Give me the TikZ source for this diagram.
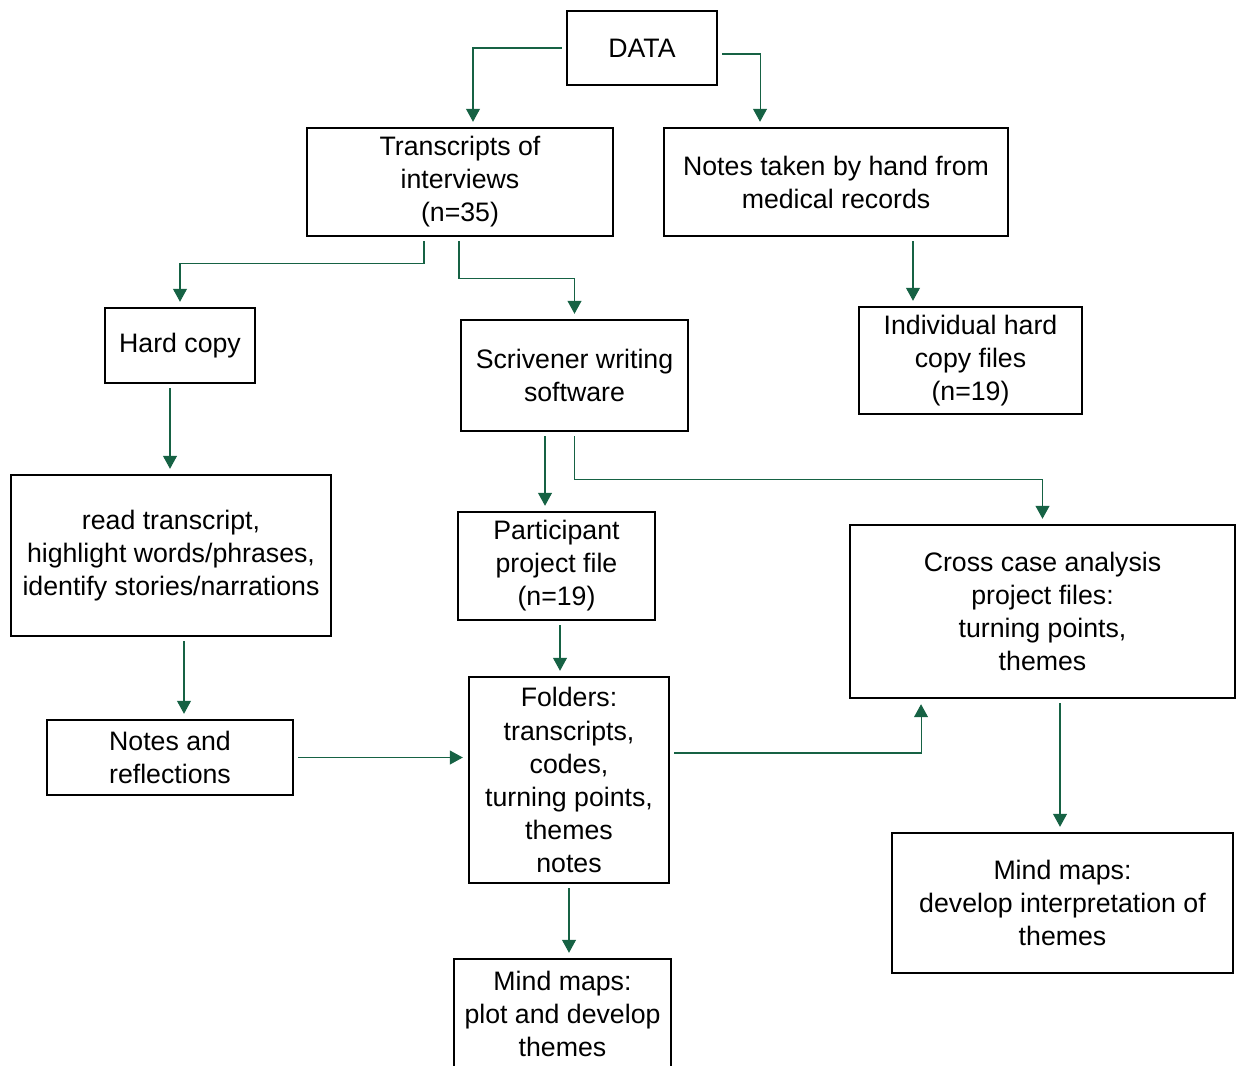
\documentclass[tikz,border=0pt]{standalone}
\usepackage{fontspec}
\setmainfont{Liberation Sans}
\usetikzlibrary{arrows.meta}
\definecolor{arrowgreen}{RGB}{22,98,68}

\begin{document}
\begin{tikzpicture}[x=0.02cm,y=-0.02cm,
	box/.style={draw,black,line width=1.4pt,align=center,inner sep=0pt,
		font=\fontsize{15.2}{18.8}\selectfont},
	arr/.style={draw=arrowgreen,line width=0.6pt,
		-{Triangle[width=2.8mm,length=2.6mm,fill=arrowgreen]},
		shorten <=0.8mm,shorten >=1mm}]
	\useasboundingbox (0,0) rectangle (1243,1065);

	\node[box,minimum width=3cm,minimum height=1.48cm] (data) at (642,48) {DATA};
	\node[box,minimum width=6.12cm,minimum height=2.16cm] (trans) at (460,182) {Transcripts of\\interviews\\(n=35)};
	\node[box,minimum width=6.88cm,minimum height=2.16cm] (notes) at (836,182) {Notes taken by hand from\\medical records};
	\node[box,minimum width=3cm,minimum height=1.5cm] (hard) at (180,345.5) {Hard copy};
	\node[box,minimum width=4.54cm,minimum height=2.22cm] (scriv) at (574.5,375.5) {Scrivener writing\\software};
	\node[box,minimum width=4.46cm,minimum height=2.14cm] (indiv) at (970.5,360.5) {Individual hard\\copy files\\(n=19)};
	\node[box,minimum width=6.4cm,minimum height=3.22cm] (read) at (171,555.5) {read transcript,\\highlight words/phrases,\\identify stories/narrations};
	\node[box,minimum width=3.94cm,minimum height=2.16cm] (part) at (556.5,566) {Participant\\project file\\(n=19)};
	\node[box,minimum width=7.7cm,minimum height=3.46cm] (cross) at (1042.5,611.5) {Cross case analysis\\project files:\\turning points,\\themes};
	\node[box,minimum width=4.92cm,minimum height=1.5cm] (refl) at (170,757.5) {Notes and\\reflections};
	\node[box,minimum width=4cm,minimum height=4.12cm] (fold) at (569,780) {Folders:\\transcripts,\\codes,\\turning points,\\themes\\notes};
	\node[box,minimum width=6.82cm,minimum height=2.8cm] (mmdev) at (1062.5,903) {Mind maps:\\develop interpretation of\\themes};
	\node[box,minimum width=4.34cm,minimum height=2.2cm] (mmplot) at (562.5,1014) {Mind maps:\\plot and develop\\themes};

	% connectors
	\draw[arr] (data.west) -| ([xshift=2.6mm]trans.north);
	\draw[arr] ([yshift=-1.2mm]data.east) -| ([xshift=-15.2mm]notes.north);
	\draw[arr] ([xshift=-7.2mm]trans.south) -- ++(0,26) -| (hard.north);
	\draw[arr] ([xshift=-0.2mm]trans.south) -- ++(0,41) -| (scriv.north);
	\draw[arr] ([xshift=15.4mm]notes.south) -- ([xshift=15.4mm]notes.south |- indiv.north);
	\draw[arr] ([xshift=-2mm]hard.south) -- ([xshift=-2mm]hard.south |- read.north);
	\draw[arr] ([xshift=-5.9mm]scriv.south) -- ([xshift=-5.9mm]scriv.south |- part.north);
	\draw[arr] (scriv.south) -- ++(0,47) -| (cross.north);
	\draw[arr] ([xshift=2.6mm]read.south) -- ([xshift=2.6mm]read.south |- refl.north);
	\draw[arr] ([xshift=0.7mm]part.south) -- ([xshift=0.7mm]part.south |- fold.north);
	\draw[arr] (refl.east) -- (refl.east -| fold.west);
	\draw[arr] ([yshift=5.4mm]fold.east) -| ([xshift=-24.3mm]cross.south);
	\draw[arr] ([xshift=3.5mm]cross.south) -- ([xshift=3.5mm]cross.south |- mmdev.north);
	\draw[arr] (fold.south) -- (fold.south |- mmplot.north);
\end{tikzpicture}
\end{document}
